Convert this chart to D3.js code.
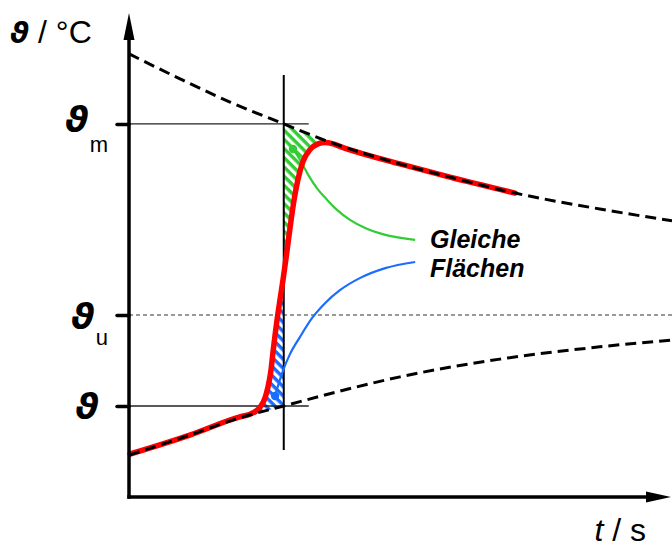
<!DOCTYPE html>
<html>
<head>
<meta charset="utf-8">
<script src="https://cdn.jsdelivr.net/npm/d3@7"></script>
<style>
body { margin: 0; background: #fff; }
svg { display: block; font-family: "Liberation Sans", Arial, sans-serif; }
</style>
</head>
<body>
<svg width="672" height="547"></svg>
<script>
// levels on the temperature axis
const tickValues = [20, 40, 82];
const tickSubs = ["", "u", "m"];
const tMark = 28.5;        // time of the step (vertical line)
const tRefEnd = 33.1;      // end of the thin reference lines
const tJoinUpper = 39.2;   // red curve meets cooling curve
const tJoinLower = 23.4;   // red curve leaves warming curve

// measured temperature (red)
const measT = [0.2, 11.2, 20.4, 22.3, 23.4, 24.3, 25.05, 25.6, 26.15, 26.5, 26.9, 27.26, 27.8, 28.36, 29.0, 29.65, 30.4, 31.1, 32.0, 33.3, 34.8, 36.1, 37.6, 39.2, 40.7, 49.9, 59.1, 71.1];
const measV = [9.45, 13.6, 17.6, 18.2, 18.9, 20.0, 21.8, 24.2, 27.9, 31.65, 35.6, 38.9, 43.3, 47.7, 53.2, 59.1, 65.3, 69.7, 73.6, 76.3, 77.6, 77.9, 77.6, 76.9, 76.3, 73.2, 70.3, 66.8];

// cooling curve (upper dashed)
const upperT = [0, 9.4, 18.6, 28.5, 37.0, 49.9, 59.1, 71.1, 86.7, 100];
const upperV = [97.4, 91.9, 86.8, 82.0, 78.0, 73.2, 70.3, 66.8, 63.3, 60.7];

// warming curve (lower dashed)
const lowerT = [0, 11.2, 20.4, 28.5, 38.9, 49.9, 68.3, 86.7, 100];
const lowerV = [9.2, 13.6, 17.4, 20.0, 23.3, 26.4, 30.3, 33.0, 34.5];

// pointer lines to the label
const greenT = [30.2, 31.5, 33.0, 34.6, 36.5, 38.3, 40.7, 43.5, 47.2, 52.7];
const greenV = [76.5, 74.1, 70.8, 67.9, 65.3, 63.1, 60.9, 59.1, 57.6, 56.5];
const blueT = [26.9, 27.6, 28.4, 29.65, 31.5, 33.7, 36.1, 38.9, 42.5, 47.2, 52.7];
const blueV = [22.2, 25.05, 27.9, 31.4, 35.2, 39.3, 42.6, 45.5, 48.1, 50.3, 51.65];

const labelLines = ["Gleiche", "Flächen"];

const green = "#33cc33", blue = "#1a6dff", red = "#ff0000";

const svg = d3.select("svg");
const x = d3.scaleLinear().domain([0, 100]).range([129, 672]);
const y = d3.scaleLinear().domain([0, 100]).range([497, 42]);

const zip = (a, b) => a.map((d, i) => [d, b[i]]);
const line = d3.line().x(d => x(d[0])).y(d => y(d[1])).curve(d3.curveMonotoneX);

const defs = svg.append("defs");
function hatch(id, color) {
  defs.append("pattern").attr("id", id)
    .attr("patternUnits", "userSpaceOnUse")
    .attr("width", 6.5).attr("height", 6.5)
    .attr("patternTransform", "rotate(45)")
    .append("rect").attr("width", 6.5).attr("height", 3.4).attr("fill", color);
}
hatch("hg", green);
hatch("hb", blue);

const gHatch = svg.append("g");
const gThin = svg.append("g");
const gCurves = svg.append("g");

const redPath = gCurves.append("path").datum(zip(measT, measV))
  .attr("d", line).attr("fill", "none").attr("stroke", red)
  .attr("stroke-width", 5.5).attr("stroke-linecap", "round").attr("stroke-linejoin", "round");

const upperPath = gCurves.append("path").datum(zip(upperT, upperV))
  .attr("d", line).attr("fill", "none").attr("stroke", "#000")
  .attr("stroke-width", 3).attr("stroke-dasharray", "11,6");

const lowerPath = gCurves.append("path").datum(zip(lowerT, lowerV))
  .attr("d", line).attr("fill", "none").attr("stroke", "#000")
  .attr("stroke-width", 3).attr("stroke-dasharray", "11,6");

// sample drawn curves to build the hatched areas between them
function sample(node) {
  const L = node.getTotalLength(), pts = [];
  for (let s = 0; s <= L; s += 0.5) {
    const p = node.getPointAtLength(s);
    pts.push([p.x, p.y]);
  }
  return pts;
}
function yAt(pts, px) {
  for (let i = 0; i < pts.length - 1; i++) {
    const a = pts[i], b = pts[i + 1];
    if (a[0] <= px && b[0] >= px && b[0] !== a[0]) {
      return a[1] + (b[1] - a[1]) * (px - a[0]) / (b[0] - a[0]);
    }
  }
  return pts[pts.length - 1][1];
}

const redPts = sample(redPath.node());
const upPts = sample(upperPath.node());
const lowPts = sample(lowerPath.node());
const x0 = x(tMark), xJ = x(tJoinUpper), xS = x(tJoinLower);

const greenPoly = [[x0, yAt(upPts, x0)], [x0, yAt(redPts, x0)]]
  .concat(redPts.filter(p => p[0] > x0 && p[0] < xJ))
  .concat(upPts.filter(p => p[0] > x0 && p[0] < xJ).reverse());
const bluePoly = redPts.filter(p => p[0] > xS && p[0] < x0)
  .concat([[x0, yAt(redPts, x0)], [x0, yAt(lowPts, x0)]])
  .concat(lowPts.filter(p => p[0] > xS && p[0] < x0).reverse());

gHatch.append("path").attr("d", "M" + greenPoly.join("L") + "Z").attr("fill", "url(#hg)");
gHatch.append("path").attr("d", "M" + bluePoly.join("L") + "Z").attr("fill", "url(#hb)");

// thin reference lines
gThin.append("line")
  .attr("x1", x(0)).attr("x2", x(100)).attr("y1", y(tickValues[1])).attr("y2", y(tickValues[1]))
  .attr("stroke", "#333").attr("stroke-width", 1.1).attr("stroke-dasharray", "4,3");
[tickValues[0], tickValues[2]].forEach(v => {
  gThin.append("line")
    .attr("x1", x(0)).attr("x2", x(tRefEnd)).attr("y1", y(v)).attr("y2", y(v))
    .attr("stroke", "#222").attr("stroke-width", 1.3);
});
gThin.append("line")
  .attr("x1", x0).attr("x2", x0).attr("y1", 75).attr("y2", 450)
  .attr("stroke", "#000").attr("stroke-width", 2);

// pointer curves with dots
[[greenT, greenV, green], [blueT, blueV, blue]].forEach(([t, v, c]) => {
  gThin.append("path").datum(zip(t, v)).attr("d", line)
    .attr("fill", "none").attr("stroke", c).attr("stroke-width", 2.2);
  gThin.append("circle").attr("cx", x(t[0])).attr("cy", y(v[0])).attr("r", 4.2).attr("fill", c);
});

// dashed curves above the red one
redPath.lower();

// axes
const axis = svg.append("g").attr("transform", `translate(${x(0)},0)`)
  .call(d3.axisLeft(y).tickValues(tickValues).tickSize(12).tickFormat(""));
axis.select(".domain").remove();
axis.selectAll(".tick line").attr("stroke", "#000").attr("stroke-width", 3.5).attr("stroke-linecap", "round");

svg.append("line").attr("x1", x(0)).attr("x2", x(0)).attr("y1", y(0) + 1.7).attr("y2", 38)
  .attr("stroke", "#000").attr("stroke-width", 3.5);
svg.append("path").attr("d", `M${x(0) - 5.5},40L${x(0)},13L${x(0) + 5.5},40Z`).attr("fill", "#000");
svg.append("line").attr("x1", x(0) - 1.7).attr("x2", 650).attr("y1", y(0)).attr("y2", y(0))
  .attr("stroke", "#000").attr("stroke-width", 3.5);
svg.append("path").attr("d", `M646,${y(0) - 5.5}L671,${y(0)}L646,${y(0) + 5.5}Z`).attr("fill", "#000");

// tick labels
const theta = t => t.attr("font-family", "DejaVu Sans").attr("font-style", "italic").attr("font-weight", "bold");
const labelStyle = { "": { dy: 13, sx: 99 }, u: { dy: 13.5, sx: 108, sub: 16 }, m: { dy: 8, sx: 108, sub: 20 } };
tickValues.forEach((v, i) => {
  const s = labelStyle[tickSubs[i]];
  const t = svg.append("text").attr("x", s.sx).attr("y", y(v) + s.dy)
    .attr("text-anchor", "end").attr("fill", "#000");
  t.append("tspan").call(theta).attr("font-size", 36).text("ϑ");
  if (tickSubs[i]) {
    t.append("tspan").attr("font-size", 22).attr("dx", 1).attr("dy", s.sub).text(tickSubs[i]);
  }
});

// axis titles
const yt = svg.append("text").attr("x", 10).attr("y", 43).attr("font-size", 32);
yt.append("tspan").call(theta).attr("font-size", 29).text("ϑ");
yt.append("tspan").text(" / °C");

const xt = svg.append("text").attr("x", 646).attr("y", 541).attr("font-size", 32).attr("text-anchor", "end");
xt.append("tspan").attr("font-style", "italic").text("t");
xt.append("tspan").text(" / s");

// annotation
svg.append("text").attr("x", 430).attr("y", 248)
  .attr("font-size", 25).attr("font-weight", "bold").attr("font-style", "italic")
  .selectAll("tspan").data(labelLines).join("tspan")
  .attr("x", 430).attr("dy", (d, i) => i ? 28.5 : 0).text(d => d);
</script>
</body>
</html>
